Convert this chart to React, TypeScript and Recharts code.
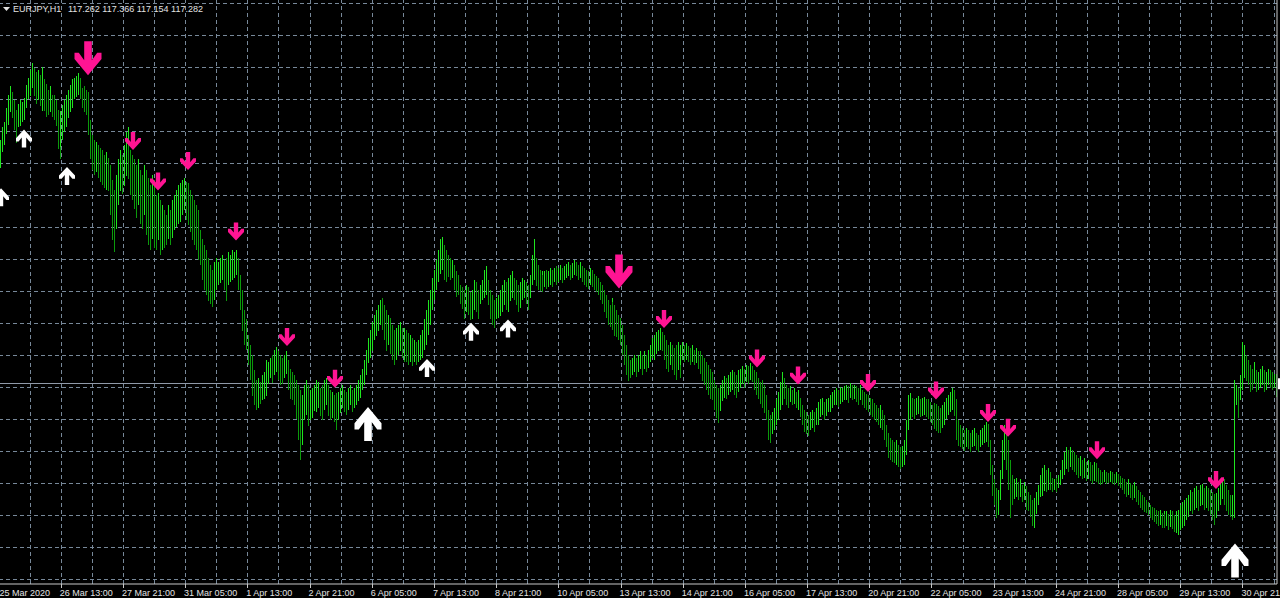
import React from "react";
import { ComposedChart, Bar, Line, XAxis, YAxis, ReferenceLine } from "recharts";

const symbol = "EURJPY,H1";
// open, high, low, close of the current bar
const lastQuote = [117.262, 117.366, 117.154, 117.282];

const timeLabels = [
  "25 Mar 2020", "26 Mar 13:00", "27 Mar 21:00", "31 Mar 05:00", "1 Apr 13:00", "2 Apr 21:00",
  "6 Apr 05:00", "7 Apr 13:00", "8 Apr 21:00", "10 Apr 05:00", "13 Apr 13:00", "14 Apr 21:00",
  "16 Apr 05:00", "17 Apr 13:00", "20 Apr 21:00", "22 Apr 05:00", "23 Apr 13:00", "24 Apr 21:00",
  "28 Apr 05:00", "29 Apr 13:00", "30 Apr 21:00",
];
const labelBars = [0, 31, 63, 95, 127, 159, 191, 223, 255, 287, 319, 351, 383, 415, 447, 479, 511, 543, 575, 607, 639];
const gridBars = [
  15, 31, 47, 63, 79, 95, 111, 127, 143, 159, 175, 191, 207, 223, 239, 255, 271, 287, 303, 319, 335,
  351, 367, 383, 399, 415, 431, 447, 463, 479, 495, 511, 527, 543, 559, 575, 591, 607, 623, 639, 655,
];
const priceTicks = [
  115.44, 115.74, 116.04, 116.34, 116.64, 116.94, 117.24, 117.54, 117.84, 118.14,
  118.44, 118.74, 119.04, 119.34, 119.64, 119.94, 120.24, 120.54, 120.84,
];

// hourly highs / lows
const highs = [
  119.56, 119.68, 119.73, 119.86, 119.98, 120.07, 120.01, 119.94, 119.84, 119.90,
  119.94, 119.92, 119.96, 120.08, 120.14, 120.22, 120.28, 120.24, 120.20, 120.22,
  120.17, 120.25, 120.13, 120.09, 120.03, 120.07, 119.98, 119.98, 119.94, 119.84,
  119.75, 119.83, 119.89, 119.94, 119.98, 120.03, 120.08, 120.13, 120.14, 120.16,
  120.19, 120.14, 120.05, 120.07, 120.03, 120.01, 119.75, 119.61, 119.56, 119.54,
  119.52, 119.49, 119.47, 119.42, 119.45, 119.39, 119.33, 119.19, 119.09, 119.23,
  119.38, 119.47, 119.42, 119.52, 119.64, 119.68, 119.56, 119.47, 119.42, 119.38,
  119.33, 119.38, 119.28, 119.23, 119.33, 119.28, 119.21, 119.14, 119.23, 119.19,
  119.05, 119.07, 119.00, 118.95, 118.91, 118.86, 118.95, 118.91, 119.00, 119.05,
  119.09, 119.14, 119.16, 119.19, 119.21, 119.17, 119.16, 119.09, 119.05, 119.00,
  118.95, 118.91, 118.86, 118.72, 118.63, 118.58, 118.53, 118.46, 118.39, 118.34,
  118.42, 118.46, 118.42, 118.46, 118.48, 118.44, 118.46, 118.51, 118.48, 118.53,
  118.51, 118.53, 118.46, 118.30, 118.16, 117.97, 117.88, 117.73, 117.64, 117.55,
  117.41, 117.31, 117.33, 117.29, 117.36, 117.39, 117.42, 117.50, 117.48, 117.52,
  117.55, 117.59, 117.62, 117.58, 117.55, 117.52, 117.55, 117.58, 117.50, 117.42,
  117.39, 117.36, 117.31, 117.27, 117.22, 117.17, 117.27, 117.31, 117.27, 117.22,
  117.24, 117.27, 117.31, 117.29, 117.24, 117.27, 117.31, 117.33, 117.27, 117.22,
  117.20, 117.17, 117.19, 117.14, 117.20, 117.24, 117.27, 117.22, 117.20, 117.24,
  117.27, 117.22, 117.24, 117.27, 117.31, 117.36, 117.42, 117.50, 117.59, 117.71,
  117.78, 117.86, 117.92, 117.97, 118.02, 118.06, 118.08, 118.02, 117.97, 117.92,
  117.89, 117.83, 117.78, 117.80, 117.83, 117.86, 117.80, 117.78, 117.80, 117.78,
  117.75, 117.73, 117.71, 117.69, 117.67, 117.69, 117.73, 117.78, 117.88, 117.97,
  118.06, 118.16, 118.27, 118.34, 118.44, 118.53, 118.63, 118.65, 118.58, 118.53,
  118.48, 118.46, 118.44, 118.39, 118.33, 118.30, 118.20, 118.18, 118.16, 118.20,
  118.18, 118.14, 118.16, 118.20, 118.25, 118.23, 118.16, 118.20, 118.25, 118.34,
  118.38, 118.25, 118.16, 118.11, 118.06, 118.08, 118.11, 118.16, 118.20, 118.25,
  118.23, 118.27, 118.30, 118.33, 118.27, 118.25, 118.20, 118.23, 118.27, 118.25,
  118.23, 118.20, 118.30, 118.48, 118.63, 118.46, 118.39, 118.34, 118.33, 118.30,
  118.33, 118.34, 118.33, 118.36, 118.34, 118.36, 118.38, 118.36, 118.39, 118.36,
  118.38, 118.40, 118.42, 118.39, 118.41, 118.44, 118.42, 118.39, 118.42, 118.38,
  118.36, 118.34, 118.33, 118.36, 118.34, 118.31, 118.29, 118.27, 118.23, 118.20,
  118.16, 118.11, 118.06, 118.02, 118.08, 118.04, 118.02, 117.97, 117.92, 117.89,
  117.83, 117.73, 117.64, 117.55, 117.50, 117.52, 117.55, 117.52, 117.55, 117.58,
  117.55, 117.58, 117.55, 117.59, 117.64, 117.71, 117.73, 117.76, 117.78, 117.80,
  117.76, 117.73, 117.69, 117.64, 117.67, 117.64, 117.61, 117.64, 117.67, 117.61,
  117.64, 117.67, 117.64, 117.66, 117.63, 117.61, 117.64, 117.59, 117.61, 117.58,
  117.58, 117.55, 117.52, 117.48, 117.45, 117.42, 117.39, 117.31, 117.27, 117.24,
  117.27, 117.31, 117.35, 117.33, 117.36, 117.39, 117.41, 117.39, 117.36, 117.41,
  117.42, 117.44, 117.42, 117.45, 117.44, 117.46, 117.47, 117.44, 117.41, 117.39,
  117.33, 117.29, 117.31, 117.27, 117.17, 117.03, 116.98, 117.01, 117.05, 117.13,
  117.20, 117.29, 117.39, 117.33, 117.27, 117.24, 117.26, 117.22, 117.24, 117.20,
  117.22, 117.14, 117.08, 117.03, 117.01, 116.98, 117.01, 117.03, 117.01, 117.05,
  117.08, 117.11, 117.13, 117.14, 117.11, 117.13, 117.14, 117.17, 117.20, 117.22,
  117.24, 117.22, 117.25, 117.24, 117.26, 117.27, 117.26, 117.28, 117.27, 117.27,
  117.26, 117.24, 117.27, 117.22, 117.20, 117.18, 117.17, 117.14, 117.13, 117.10,
  117.08, 117.05, 117.08, 117.03, 116.98, 116.89, 116.82, 116.80, 116.77, 116.75,
  116.73, 116.75, 116.70, 116.68, 116.69, 116.75, 116.94, 117.17, 117.19, 117.14,
  117.13, 117.14, 117.16, 117.13, 117.14, 117.15, 117.13, 117.13, 117.11, 117.08,
  117.10, 117.09, 117.07, 117.05, 117.08, 117.11, 117.14, 117.17, 117.20, 117.24,
  117.22, 117.13, 116.98, 116.94, 116.89, 116.86, 116.84, 116.86, 116.84, 116.82,
  116.84, 116.86, 116.82, 116.80, 116.84, 116.86, 116.89, 116.92, 116.90, 116.75,
  116.52, 116.38, 116.30, 116.28, 116.47, 116.75, 116.89, 116.86, 116.75, 116.56,
  116.42, 116.38, 116.39, 116.36, 116.38, 116.33, 116.36, 116.32, 116.28, 116.26,
  116.23, 116.19, 116.21, 116.26, 116.33, 116.42, 116.49, 116.52, 116.47, 116.49,
  116.45, 116.39, 116.38, 116.39, 116.42, 116.47, 116.56, 116.64, 116.68, 116.66,
  116.68, 116.66, 116.64, 116.61, 116.58, 116.60, 116.56, 116.58, 116.54, 116.56,
  116.54, 116.52, 116.53, 116.54, 116.53, 116.49, 116.47, 116.45, 116.47, 116.45,
  116.44, 116.46, 116.45, 116.43, 116.45, 116.43, 116.41, 116.39, 116.38, 116.36,
  116.38, 116.35, 116.33, 116.36, 116.32, 116.28, 116.26, 116.23, 116.22, 116.19,
  116.17, 116.14, 116.12, 116.11, 116.09, 116.08, 116.09, 116.07, 116.08, 116.06,
  116.08, 116.06, 116.09, 116.08, 116.05, 116.08, 116.09, 116.14, 116.17, 116.19,
  116.21, 116.23, 116.28, 116.26, 116.30, 116.32, 116.28, 116.33, 116.34, 116.30,
  116.32, 116.30, 116.28, 116.26, 116.24, 116.25, 116.30, 116.36, 116.39, 116.38,
  116.33, 116.28, 116.23, 116.21, 116.23, 117.31, 117.27, 117.24, 117.36, 117.67,
  117.64, 117.55, 117.50, 117.45, 117.42, 117.48, 117.41, 117.39, 117.42, 117.44,
  117.41, 117.39, 117.42, 117.41, 117.39, 117.37, 117.366,
];
const lows = [
  119.30, 119.45, 119.51, 119.62, 119.70, 119.83, 119.77, 119.66, 119.53, 119.68,
  119.70, 119.73, 119.75, 119.86, 119.94, 119.98, 120.05, 119.98, 119.90, 119.94,
  119.88, 119.84, 119.83, 119.78, 119.80, 119.83, 119.77, 119.75, 119.70, 119.47,
  119.38, 119.49, 119.56, 119.64, 119.68, 119.77, 119.83, 119.86, 119.94, 119.96,
  119.98, 119.94, 119.86, 119.83, 119.80, 119.61, 119.38, 119.28, 119.23, 119.26,
  119.21, 119.17, 119.14, 119.11, 119.09, 119.08, 118.86, 118.63, 118.51, 118.72,
  118.95, 119.09, 119.05, 119.14, 119.23, 119.30, 119.19, 119.05, 119.00, 118.91,
  118.83, 118.95, 118.77, 118.72, 118.86, 118.67, 118.58, 118.53, 118.63, 118.55,
  118.53, 118.63, 118.48, 118.53, 118.55, 118.58, 118.63, 118.58, 118.64, 118.72,
  118.74, 118.77, 118.79, 118.86, 118.91, 118.81, 118.77, 118.70, 118.63, 118.58,
  118.53, 118.46, 118.44, 118.39, 118.25, 118.16, 118.11, 118.06, 118.02, 117.99,
  118.06, 118.16, 118.20, 118.23, 118.25, 118.16, 118.06, 118.20, 118.23, 118.25,
  118.27, 118.30, 118.16, 117.97, 117.78, 117.64, 117.59, 117.45, 117.31, 117.17,
  117.08, 117.03, 117.05, 117.08, 117.13, 117.14, 117.17, 117.22, 117.27, 117.33,
  117.29, 117.36, 117.39, 117.31, 117.27, 117.28, 117.33, 117.36, 117.22, 117.14,
  117.13, 117.08, 116.94, 116.75, 116.56, 116.70, 116.94, 116.98, 116.89, 116.94,
  116.96, 117.03, 117.01, 117.05, 116.98, 116.94, 117.03, 117.08, 116.98, 116.94,
  116.96, 116.92, 116.86, 116.84, 116.94, 117.01, 117.05, 117.01, 116.98, 117.03,
  117.08, 117.01, 117.05, 117.08, 117.11, 117.14, 117.22, 117.27, 117.36, 117.48,
  117.52, 117.59, 117.69, 117.73, 117.78, 117.83, 117.78, 117.69, 117.59, 117.64,
  117.55, 117.50, 117.45, 117.50, 117.55, 117.59, 117.52, 117.48, 117.50, 117.48,
  117.45, 117.48, 117.45, 117.48, 117.45, 117.48, 117.50, 117.52, 117.59, 117.64,
  117.73, 117.83, 117.97, 118.06, 118.16, 118.23, 118.30, 118.34, 118.25, 118.23,
  118.27, 118.25, 118.27, 118.16, 118.09, 118.11, 118.02, 117.97, 117.89, 117.95,
  117.92, 117.88, 117.89, 117.97, 118.02, 117.95, 117.89, 118.02, 118.06, 118.08,
  118.11, 118.02, 117.89, 117.83, 117.80, 117.88, 117.89, 117.92, 117.95, 118.02,
  117.97, 117.95, 118.06, 118.08, 118.06, 118.02, 117.95, 117.99, 118.06, 118.08,
  118.02, 117.97, 118.08, 118.20, 118.25, 118.20, 118.16, 118.14, 118.16, 118.14,
  118.18, 118.16, 118.18, 118.20, 118.18, 118.23, 118.20, 118.23, 118.25, 118.22,
  118.25, 118.27, 118.29, 118.25, 118.27, 118.30, 118.29, 118.25, 118.27, 118.23,
  118.20, 118.18, 118.16, 118.20, 118.18, 118.16, 118.14, 118.11, 118.06, 118.02,
  117.95, 117.89, 117.83, 117.81, 117.86, 117.78, 117.73, 117.72, 117.69, 117.64,
  117.55, 117.45, 117.36, 117.31, 117.33, 117.36, 117.39, 117.34, 117.39, 117.41,
  117.36, 117.41, 117.39, 117.42, 117.48, 117.52, 117.50, 117.55, 117.58, 117.59,
  117.58, 117.50, 117.42, 117.39, 117.45, 117.41, 117.36, 117.31, 117.41, 117.33,
  117.45, 117.50, 117.48, 117.50, 117.48, 117.45, 117.48, 117.45, 117.47, 117.41,
  117.36, 117.31, 117.27, 117.22, 117.17, 117.14, 117.13, 117.03, 116.96, 116.91,
  117.03, 117.11, 117.14, 117.13, 117.17, 117.20, 117.22, 117.17, 117.14, 117.20,
  117.24, 117.27, 117.24, 117.29, 117.27, 117.31, 117.33, 117.29, 117.22, 117.17,
  117.13, 117.08, 117.05, 117.01, 116.94, 116.75, 116.72, 116.80, 116.84, 116.89,
  116.94, 117.03, 117.08, 117.13, 117.08, 117.05, 117.11, 117.08, 117.09, 117.05,
  117.03, 116.96, 116.89, 116.82, 116.80, 116.78, 116.84, 116.86, 116.82, 116.89,
  116.89, 116.94, 116.96, 116.98, 116.94, 116.97, 117.01, 117.01, 117.05, 117.08,
  117.08, 117.06, 117.09, 117.11, 117.13, 117.13, 117.10, 117.14, 117.13, 117.14,
  117.11, 117.08, 117.13, 117.08, 117.05, 117.03, 117.01, 116.98, 116.96, 116.94,
  116.92, 116.89, 116.86, 116.84, 116.75, 116.68, 116.61, 116.58, 116.56, 116.54,
  116.53, 116.52, 116.49, 116.47, 116.49, 116.52, 116.61, 116.84, 116.94, 116.96,
  116.94, 116.98, 116.99, 116.96, 116.97, 116.98, 116.96, 116.94, 116.92, 116.89,
  116.86, 116.84, 116.82, 116.82, 116.86, 116.89, 116.94, 116.98, 117.01, 117.03,
  116.98, 116.89, 116.75, 116.70, 116.68, 116.66, 116.64, 116.68, 116.66, 116.64,
  116.68, 116.69, 116.66, 116.64, 116.68, 116.70, 116.72, 116.73, 116.68, 116.42,
  116.23, 116.14, 116.02, 116.05, 116.19, 116.38, 116.56, 116.47, 116.28, 116.02,
  116.14, 116.19, 116.21, 116.19, 116.21, 116.17, 116.19, 116.14, 116.09, 116.08,
  116.02, 115.95, 115.93, 116.05, 116.14, 116.21, 116.23, 116.28, 116.26, 116.28,
  116.28, 116.26, 116.28, 116.26, 116.30, 116.33, 116.38, 116.42, 116.47, 116.45,
  116.49, 116.47, 116.45, 116.42, 116.39, 116.41, 116.38, 116.39, 116.36, 116.38,
  116.36, 116.34, 116.36, 116.38, 116.35, 116.34, 116.33, 116.34, 116.36, 116.34,
  116.35, 116.36, 116.34, 116.33, 116.35, 116.32, 116.30, 116.28, 116.24, 116.22,
  116.23, 116.21, 116.19, 116.21, 116.17, 116.14, 116.11, 116.09, 116.08, 116.07,
  116.05, 116.02, 116.00, 115.98, 115.96, 115.94, 115.95, 115.93, 115.93, 115.93,
  115.94, 115.91, 115.93, 115.91, 115.89, 115.87, 115.86, 115.91, 115.93, 115.95,
  116.00, 116.02, 116.08, 116.05, 116.09, 116.11, 116.08, 116.13, 116.14, 116.09,
  116.11, 116.08, 116.05, 116.00, 115.95, 116.02, 116.08, 116.14, 116.19, 116.14,
  116.09, 116.05, 116.02, 116.00, 116.02, 116.02, 117.08, 116.96, 117.13, 117.22,
  117.33, 117.31, 117.27, 117.20, 117.22, 117.27, 117.20, 117.22, 117.24, 117.26,
  117.20, 117.22, 117.27, 117.24, 117.22, 117.24, 117.154,
];

// indicator signals: bar index, arrow tip price, strong signal
const buyBars = [0, 12, 34, 189, 219, 242, 261, 635];
const buyPrices = [119.11, 119.66, 119.31, 117.06, 117.51, 117.85, 117.88, 115.78];
const buyStrong = [false, false, false, true, false, false, false, true];
const sellBars = [45, 68, 81, 96, 121, 147, 172, 318, 341, 389, 410, 446, 481, 508, 518, 564, 625];
const sellPrices = [
  120.17, 119.47, 119.09, 119.28, 118.62, 117.63, 117.24, 118.17, 117.8,
  117.43, 117.27, 117.2, 117.13, 116.92, 116.78, 116.57, 116.29,
];
const sellStrong = [true, false, false, false, false, false, false, true, false, false, false, false, false, false, false, false, false];

const UP = "#1fe61f";
const DOWN = "#0b9a0b";
const GRID = "#778899";
const AXIS = "#c8c8c8";
const TEXT = "#e2e2e2";
const FONT = "Liberation Sans, Arial, sans-serif";

type Row = {
  bar: number;
  range: [number, number];
  rising: boolean;
  buy: number | null;
  buyStrong: boolean;
  sell: number | null;
  sellStrong: boolean;
};

const rows: Row[] = highs.map((high, i) => {
  const mid = (high + lows[i]) / 2;
  const prevMid = i > 0 ? (highs[i - 1] + lows[i - 1]) / 2 : mid;
  return { bar: i, range: [lows[i], high], rising: mid >= prevMid, buy: null, buyStrong: false, sell: null, sellStrong: false };
});
buyBars.forEach((b, k) => {
  rows[b].buy = buyPrices[k];
  rows[b].buyStrong = buyStrong[k];
});
sellBars.forEach((b, k) => {
  rows[b].sell = sellPrices[k];
  rows[b].sellStrong = sellStrong[k];
});

const crisp = (v: number) => Math.floor(v) + 0.5;

// keep 1px grid lines on whole pixels
const crispLine = (p: any) => {
  const vertical = Math.abs(p.x1 - p.x2) < 0.01;
  const x1 = vertical ? crisp(p.x1) : p.x1;
  const x2 = vertical ? crisp(p.x2) : p.x2;
  const y1 = vertical ? p.y1 : crisp(p.y1);
  const y2 = vertical ? p.y2 : crisp(p.y2);
  return <line x1={x1} y1={y1} x2={x2} y2={y2} stroke={p.stroke} strokeDasharray={p.strokeDasharray} strokeWidth={1} />;
};

// high-low bar, one pixel wide, snapped to an even column
const HourBar = (props: any) => {
  const { x, y, width, height, payload } = props;
  if (x == null || y == null || isNaN(y)) return <g />;
  const col = Math.round((x + width / 2 - 0.5) / 2) * 2;
  return (
    <rect
      x={col}
      y={Math.round(y)}
      width={1}
      height={Math.max(1, Math.round(height))}
      fill={payload.rising ? UP : DOWN}
    />
  );
};

// thick arrow outline, tip at (0.5, 1)
const ARROW = [
  [0.36, 0], [0.64, 0], [0.64, 0.56], [0.84, 0.34], [1, 0.34], [1, 0.52],
  [0.5, 1], [0, 0.52], [0, 0.34], [0.16, 0.34], [0.36, 0.56],
];

function arrowPoints(cx: number, tipY: number, w: number, h: number, down: boolean) {
  return ARROW.map(([px, py]) => {
    const x = cx + (px - 0.5) * w;
    const y = down ? tipY - h + py * h : tipY + h - py * h;
    return `${x.toFixed(1)},${y.toFixed(1)}`;
  }).join(" ");
}

const signalDot = (kind: "buy" | "sell") => (p: any) => {
  const { cx, cy, payload, index } = p;
  const key = `${kind}-${index}`;
  if (payload == null || payload[kind] == null || cy == null || isNaN(cy)) return <g key={key} />;
  const strong = kind === "buy" ? payload.buyStrong : payload.sellStrong;
  const w = strong ? 27 : 16;
  const h = strong ? 34 : 18;
  return (
    <polygon
      key={key}
      points={arrowPoints(Math.round(cx), cy, w, h, kind === "sell")}
      fill={kind === "buy" ? "#ffffff" : "#ff1493"}
    />
  );
};

const TimeTick = (props: any) => {
  const { x, y, payload } = props;
  const k = labelBars.indexOf(payload.value);
  if (k < 0) return <g />;
  const tx = crisp(x);
  return (
    <g>
      {k > 0 && <line x1={tx} y1={y} x2={tx} y2={y + 4} stroke={AXIS} />}
      <text x={x - 1.5} y={y + 12} fill={TEXT} fontSize={9} fontFamily={FONT}>
        {timeLabels[k]}
      </text>
    </g>
  );
};

// price-scale marker for the bid; only its left edge shows inside the frame
const BidMarker = (props: any) => {
  const vb = props.viewBox;
  if (!vb) return null;
  return <rect x={vb.x + vb.width + 1} y={vb.y - 5} width={46} height={11} fill="#ffffff" />;
};

export default function App() {
  return (
    <div
      style={{
        position: "absolute",
        left: 0,
        top: 0,
        width: 1280,
        height: 598,
        overflow: "hidden",
        background: "#000",
      }}
    >
      <ComposedChart width={1340} height={598} data={rows} margin={{ top: 0, right: 0, bottom: 0, left: 0 }}>
        <XAxis
          dataKey="bar"
          type="category"
          interval={0}
          tick={<TimeTick />}
          tickLine={false}
          tickSize={0}
          tickMargin={0}
          axisLine={{ stroke: AXIS }}
          height={14}
        />
        <YAxis
          orientation="right"
          width={63}
          domain={[115.4, 120.875]}
          ticks={priceTicks}
          allowDataOverflow
          axisLine={{ stroke: AXIS }}
          tickLine={false}
          tick={false}
        />
        {priceTicks.map((v) => (
          <ReferenceLine key={`h-${v}`} y={v} stroke={GRID} strokeDasharray="4 3" shape={crispLine} zIndex={-50} />
        ))}
        {gridBars.map((b) => (
          <ReferenceLine key={`v-${b}`} x={b} stroke={GRID} strokeDasharray="4 3" shape={crispLine} zIndex={-50} />
        ))}
        <ReferenceLine y={lastQuote[3]} stroke="#8f99a8" shape={crispLine} label={<BidMarker />} zIndex={-40} />
        <Bar dataKey="range" shape={HourBar} isAnimationActive={false} />
        <Line dataKey="buy" stroke="none" dot={signalDot("buy")} activeDot={false} isAnimationActive={false} />
        <Line dataKey="sell" stroke="none" dot={signalDot("sell")} activeDot={false} isAnimationActive={false} />
      </ComposedChart>
      <svg width={300} height={16} style={{ position: "absolute", left: 0, top: 0 }}>
        <polygon points="3,7 10,7 6.5,11" fill={TEXT} />
        <text x={13} y={12} fill={TEXT} fontSize={9} fontFamily={FONT}>
          {symbol}
        </text>
        <text x={68} y={12} fill={TEXT} fontSize={9} fontFamily={FONT}>
          {lastQuote.map((v) => v.toFixed(3)).join(" ")}
        </text>
      </svg>
    </div>
  );
}
